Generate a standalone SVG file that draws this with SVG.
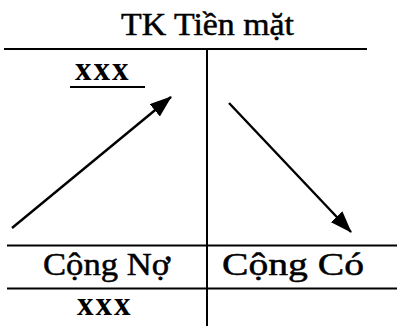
<svg xmlns="http://www.w3.org/2000/svg" width="397" height="326" viewBox="0 0 397 326">
<defs>
<style>
.t{font-family:"Liberation Serif","Times New Roman",serif;fill:#000;stroke:#000;stroke-width:0.5}
.b{font-weight:bold;stroke-width:0}
.ln{stroke:#000;stroke-width:2;fill:none}
.ar{stroke:#000;stroke-width:2.4;fill:none}
</style>
<marker id="ah" markerWidth="22" markerHeight="16" refX="21" refY="8" orient="auto" markerUnits="userSpaceOnUse">
<path d="M0,0 L22,8 L0,16 Z" fill="#000"/>
</marker>
</defs>
<rect width="397" height="326" fill="#fff"/>
<g id="title"><text class="t" x="121" y="35" font-size="32" textLength="173" lengthAdjust="spacingAndGlyphs">TK Tiền mặt</text></g>
<g id="frame">
<line class="ln" x1="4" y1="49" x2="367" y2="49"/>
<line class="ln" x1="207" y1="49" x2="207" y2="326"/>
<line class="ln" x1="7" y1="245.5" x2="397" y2="245.5"/>
<line class="ln" x1="7" y1="288.5" x2="397" y2="288.5"/>
</g>
<g id="debit-open"><text class="t b" x="75" y="80" font-size="33" letter-spacing="2">xxx</text>
<line class="ln" x1="70" y1="87" x2="145" y2="87"/></g>
<g id="debit-total"><text class="t" x="43" y="275" font-size="32" textLength="127" lengthAdjust="spacingAndGlyphs">Cộng Nợ</text></g>
<g id="credit-total"><text class="t" x="222" y="275" font-size="32" textLength="142" lengthAdjust="spacingAndGlyphs">Cộng Có</text></g>
<g id="debit-close"><text class="t b" x="77" y="315" font-size="33" letter-spacing="2">xxx</text></g>
<g id="connectors">
<line class="ar" x1="12" y1="228" x2="171" y2="97" marker-end="url(#ah)"/>
<line class="ar" x1="229" y1="103" x2="351" y2="232" marker-end="url(#ah)"/>
</g>
</svg>
